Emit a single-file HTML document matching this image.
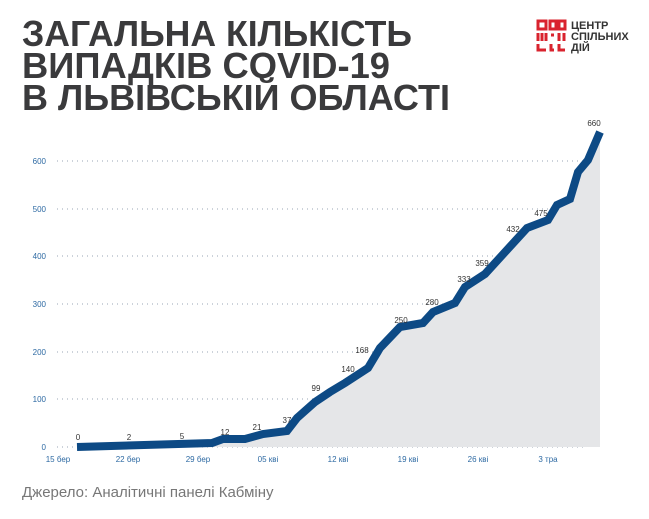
<!DOCTYPE html>
<html><head><meta charset="utf-8"><style>
html,body{margin:0;padding:0;background:#fff;}
svg{display:block;font-family:"Liberation Sans",sans-serif;}
</style></head><body>
<svg width="649" height="519" viewBox="0 0 649 519">
<g fill="#3a3a3c" font-weight="bold" font-size="36">
<text x="22" y="46" textLength="390" lengthAdjust="spacingAndGlyphs">ЗАГАЛЬНА КІЛЬКІСТЬ</text>
<text x="22" y="78" textLength="368" lengthAdjust="spacingAndGlyphs">ВИПАДКІВ COVID-19</text>
<text x="22" y="110" textLength="428" lengthAdjust="spacingAndGlyphs">В ЛЬВІВСЬКІЙ ОБЛАСТІ</text>
</g>
<g fill="none" stroke="#d9232e" stroke-width="3">
<rect x="538" y="21" width="8" height="8"/><rect x="550" y="21" width="6" height="8"/><rect x="559" y="21" width="6" height="8"/>
<path d="M538 33v8M542 33v8M546 33v8M551 35h3M559 33v8M564 33v8"/>
<path d="M538 44v6h8M551 44v6h3M559 44v6h6"/>
</g>
<g fill="#333" font-weight="bold" font-size="11">
<text x="571" y="29">ЦЕНТР</text><text x="571" y="40">СПІЛЬНИХ</text><text x="571" y="51">ДІЙ</text>
</g>
<g stroke="#9aa6b4" stroke-width="1" stroke-dasharray="1,4">
<path d="M57 447H583M57 399H583M57 352H583M57 304H583M57 256H583M57 209H583M57 161H583"/>
</g>
<g fill="#2e6aa3" font-size="8" text-anchor="end">
<text x="46" y="450">0</text><text x="46" y="402">100</text><text x="46" y="355">200</text><text x="46" y="307">300</text><text x="46" y="259">400</text><text x="46" y="212">500</text><text x="46" y="164">600</text>
</g>
<g fill="#2e6aa3" font-size="8" text-anchor="middle">
<text x="58" y="462">15 бер</text><text x="128" y="462">22 бер</text><text x="198" y="462">29 бер</text><text x="268" y="462">05 кві</text><text x="338" y="462">12 кві</text><text x="408" y="462">19 кві</text><text x="478" y="462">26 кві</text><text x="548" y="462">3 тра</text>
</g>
<path d="M77 447L212 443L223 439L245 439L263 434L287 431L297 418L315 402L330 392L345 383L368 368L380 348L400 327L423 323L433 312L455 303L465 287L485 274L527 228L548 220L557 205L570 199L578 172L588 160L600 132L600 447Z" fill="#e5e6e8"/>
<path d="M77 447L212 443L223 439L245 439L263 434L287 431L297 418L315 402L330 392L345 383L368 368L380 348L400 327L423 323L433 312L455 303L465 287L485 274L527 228L548 220L557 205L570 199L578 172L588 160L600 132" fill="none" stroke="#0d4a85" stroke-width="8" stroke-linejoin="miter"/>
<g fill="#333" font-size="8" text-anchor="middle">
<text x="78" y="440">0</text><text x="129" y="440">2</text><text x="182" y="439">5</text><text x="225" y="435">12</text><text x="257" y="430">21</text><text x="287" y="423">37</text><text x="316" y="391">99</text><text x="348" y="372">140</text><text x="362" y="353">168</text><text x="401" y="323">250</text><text x="432" y="305">280</text><text x="464" y="282">333</text><text x="482" y="266">359</text><text x="513" y="232">432</text><text x="541" y="216">475</text><text x="594" y="126">660</text>
</g>
<text x="22" y="497" fill="#777" font-size="15">Джерело: Аналітичні панелі Кабміну</text>
</svg>
</body></html>
